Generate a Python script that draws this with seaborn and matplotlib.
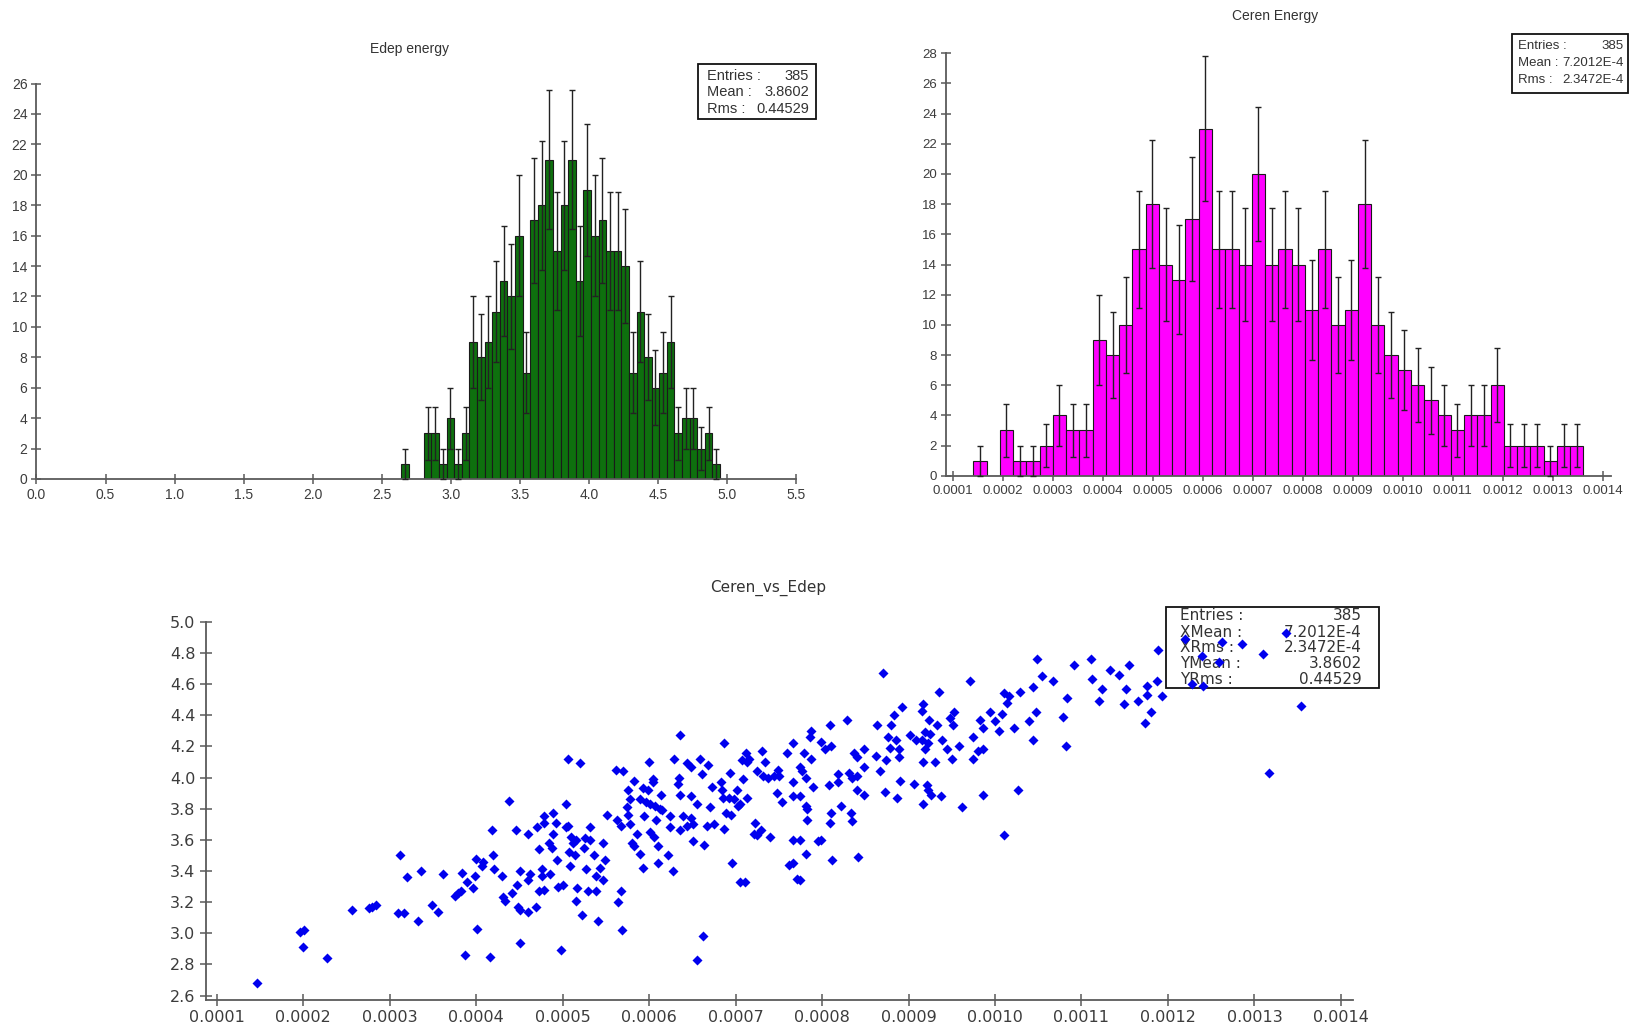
import numpy as np
import pandas as pd
import matplotlib
matplotlib.use("Agg")
import matplotlib.pyplot as plt
import seaborn as sns
from matplotlib.patches import Rectangle

# ---------------- data ----------------
# Edep energy histogram: 100 bins of width 0.055 on [0, 5.5]; counts from bin 48 on
edep_bin_width = 0.055
edep_first_bin = 48
edep_counts = [1, 0, 0, 3, 3, 1, 4, 1, 3, 9, 8, 9, 11, 13, 12, 16, 7, 17, 18, 21,
               15, 18, 21, 13, 19, 16, 17, 15, 15, 14, 7, 11, 8, 6, 7, 9, 3, 4, 4,
               2, 3, 1]
edep_stats = [("Entries :", "385"), ("Mean :", "3.8602"), ("Rms :", "0.44529")]

# Ceren energy histogram: 46 bins starting at 1.4e-4
ceren_bin_start = 0.00014
ceren_bin_width = 2.656e-5
ceren_counts = [1, 0, 3, 1, 1, 2, 4, 3, 3, 9, 8, 10, 15, 18, 14, 13, 17, 23, 15, 15,
                14, 20, 14, 15, 14, 11, 15, 10, 11, 18, 10, 8, 7, 6, 5, 4, 3, 4, 4,
                6, 2, 2, 2, 1, 2, 2]
ceren_stats = [("Entries :", "385"), ("Mean :", "7.2012E-4"), ("Rms :", "2.3472E-4")]

# Ceren vs Edep scatter: x in units of 1e-4, y = Edep
scatter_x_e4 = [
    1.47, 1.96, 2.01, 2.00, 2.27, 2.57, 2.76, 2.80, 2.84, 3.12, 3.10, 3.17, 3.20, 3.33, 3.36, 3.49,
    3.56, 3.62, 3.76, 3.79, 3.83, 3.84, 3.89, 3.87, 3.96, 3.99, 4.00, 4.01, 4.08, 4.07, 4.16, 4.18,
    4.20, 4.21, 4.30, 4.31, 4.33, 4.38, 4.41, 4.46, 4.47, 4.48, 4.51, 4.51, 4.51, 4.60, 4.60, 4.60,
    4.62, 4.70, 4.69, 4.73, 4.73, 4.76, 4.76, 4.78, 4.78, 4.79, 4.84, 4.85, 4.89, 4.88, 4.89, 4.92,
    4.94, 4.95, 4.98, 5.00, 5.04, 5.04, 5.06, 5.07, 5.09, 5.10, 5.12, 5.14, 5.16, 5.15, 5.17, 5.22,
    5.25, 5.26, 5.27, 5.29, 5.32, 5.32, 5.36, 5.39, 5.39, 5.41, 5.43, 5.47, 5.47, 5.49, 5.51,
    5.06, 5.20,
    6.36, 6.87, 6.00, 6.29, 5.62, 5.70, 5.82, 6.05, 6.04, 6.35, 6.34, 6.44, 6.49, 6.59, 6.68, 6.61,
    5.76, 5.93, 5.99, 6.14, 5.78, 5.90, 5.96, 6.01, 6.07, 6.13, 6.15, 6.36, 6.48, 6.56, 5.74, 5.63,
    5.76, 5.94, 6.08, 6.24, 6.39, 6.49, 5.78, 5.67, 6.24, 6.44, 6.51, 6.71, 6.73, 6.83, 6.75, 6.67,
    5.86, 6.01, 6.06, 6.36, 6.87, 6.84, 6.85, 6.92, 6.98, 7.02, 7.09, 7.13, 7.05, 6.89, 6.95, 7.03,
    6.94, 5.80, 5.82, 6.10, 5.90, 6.22, 6.10, 5.93, 6.28, 6.51, 6.63, 5.67, 5.64, 5.69, 6.62, 6.96,
    7.05, 7.11, 7.12, 7.15, 7.13, 7.08, 7.31, 7.34, 7.25, 7.32, 7.38, 7.44, 7.49, 7.50, 7.23, 7.21,
    7.25, 7.30, 7.40, 7.48, 7.54, 7.67, 7.59, 7.66, 7.79, 7.75, 7.77, 7.87, 7.82, 7.67, 7.75, 7.81,
    7.83, 7.89, 7.83, 7.67, 7.74, 7.95, 7.99, 7.82, 7.62, 7.66, 7.71, 7.75, 7.87, 7.86, 7.99, 8.03,
    8.10, 8.09, 8.29, 8.08, 8.18, 8.18, 8.10, 8.22, 8.09, 8.33, 8.35, 8.11, 8.42, 8.31, 8.35, 8.40,
    8.37, 8.40, 8.48, 8.49, 8.41, 8.48, 8.62, 8.67, 8.63, 8.80, 8.73, 8.74, 8.76, 8.85, 8.79, 8.89,
    8.87, 8.90, 8.89, 8.83, 8.92, 9.02, 9.06, 9.09, 9.16, 9.17, 9.16, 9.19, 9.23, 9.19, 9.25, 9.24,
    9.17, 9.21, 9.23, 9.26, 9.17, 9.31, 9.33, 9.39, 9.44, 9.48, 9.52, 9.53, 9.50, 9.58, 9.38, 9.62,
    9.35, 9.75, 9.75, 9.80, 9.86, 9.83, 9.86, 9.94, 10.00, 10.05, 10.08, 10.11, 10.14, 10.16, 10.22,
    9.86, 10.27, 10.11,
    10.49, 10.91, 11.11, 11.33, 11.43, 11.55, 10.54, 10.67, 11.12, 11.24, 11.51, 11.76, 11.87, 11.89,
    10.29, 10.44, 10.83, 11.20, 11.49, 11.65, 11.76, 11.93, 10.48, 10.39, 10.79, 11.80, 11.74, 10.44,
    10.82, 13.17, 13.54, 12.20, 12.63, 12.86, 13.36, 12.39, 12.59, 13.10, 12.28, 12.41,
    6.56, 8.70, 9.71]
scatter_y = [
    2.68, 3.01, 3.02, 2.91, 2.84, 3.15, 3.16, 3.17, 3.18, 3.50, 3.13, 3.13, 3.36, 3.08, 3.40, 3.18,
    3.14, 3.38, 3.24, 3.26, 3.27, 3.39, 3.33, 2.86, 3.29, 3.37, 3.48, 3.03, 3.46, 3.43, 2.85, 3.66,
    3.50, 3.41, 3.37, 3.23, 3.21, 3.85, 3.26, 3.66, 3.31, 3.17, 3.15, 3.40, 2.94, 3.64, 3.14, 3.34,
    3.38, 3.68, 3.17, 3.54, 3.27, 3.41, 3.37, 3.75, 3.71, 3.28, 3.58, 3.38, 3.77, 3.55, 3.64, 3.71,
    3.47, 3.30, 2.89, 3.31, 3.83, 3.68, 3.69, 3.52, 3.43, 3.62, 3.58, 3.50, 3.60, 3.21, 3.29, 3.12,
    3.55, 3.61, 3.41, 3.27, 3.68, 3.60, 3.50, 3.27, 3.37, 3.08, 3.42, 3.58, 3.34, 3.47, 3.76,
    4.12, 4.09,
    4.27, 4.22, 4.10, 4.12, 4.05, 4.04, 3.98, 3.99, 3.97, 4.00, 3.96, 4.09, 4.07, 4.12, 4.08, 4.02,
    3.92, 3.93, 3.92, 3.89, 3.86, 3.86, 3.84, 3.83, 3.82, 3.80, 3.79, 3.89, 3.88, 3.83, 3.81, 3.73,
    3.76, 3.75, 3.73, 3.75, 3.75, 3.74, 3.70, 3.69, 3.68, 3.69, 3.70, 3.81, 3.94, 3.97, 3.70, 3.69,
    3.64, 3.65, 3.62, 3.66, 3.67, 3.92, 3.87, 3.87, 3.86, 3.92, 3.99, 3.87, 3.83, 3.77, 3.76, 3.82,
    4.03, 3.58, 3.56, 3.56, 3.51, 3.50, 3.45, 3.42, 3.40, 3.59, 3.57, 3.27, 3.20, 3.02, 2.98, 3.45,
    3.33, 3.33, 4.16, 4.12, 4.10, 4.11, 4.17, 4.10, 4.04, 4.01, 4.00, 4.01, 4.05, 4.01, 3.71, 3.64,
    3.63, 3.66, 3.62, 3.90, 3.84, 3.97, 4.16, 4.22, 4.16, 4.07, 4.04, 4.12, 4.00, 3.88, 3.88, 3.82,
    3.80, 3.94, 3.73, 3.60, 3.60, 3.59, 3.60, 3.51, 3.44, 3.45, 3.35, 3.34, 4.30, 4.26, 4.23, 4.18,
    4.20, 4.34, 4.37, 3.95, 4.02, 3.97, 3.77, 3.82, 3.71, 3.77, 3.72, 3.47, 3.49, 4.03, 4.00, 4.01,
    4.16, 4.13, 4.18, 4.07, 3.92, 3.89, 4.14, 4.04, 4.34, 4.34, 3.91, 4.11, 4.26, 4.24, 4.19, 4.18,
    3.87, 3.98, 4.13, 4.40, 4.45, 4.27, 3.96, 4.24, 4.24, 4.47, 4.43, 4.18, 4.22, 4.29, 4.28, 4.37,
    4.10, 3.95, 3.92, 3.89, 3.83, 4.10, 4.34, 4.24, 4.18, 4.38, 4.34, 4.42, 4.12, 4.20, 3.88, 3.81,
    4.55, 4.12, 4.26, 4.17, 4.18, 4.37, 4.32, 4.42, 4.36, 4.30, 4.41, 4.54, 4.48, 4.52, 4.32,
    3.89, 3.92, 3.63,
    4.76, 4.72, 4.76, 4.69, 4.66, 4.72, 4.65, 4.62, 4.63, 4.57, 4.57, 4.59, 4.62, 4.82,
    4.55, 4.58, 4.51, 4.49, 4.47, 4.49, 4.53, 4.52, 4.42, 4.36, 4.39, 4.42, 4.35, 4.24,
    4.20, 4.03, 4.46, 4.89, 4.87, 4.86, 4.93, 4.78, 4.74, 4.79, 4.60, 4.59,
    2.83, 4.67, 4.62]
scatter_stats = [("Entries :", "385"), ("XMean :", "7.2012E-4"), ("XRms :", "2.3472E-4"),
                 ("YMean :", "3.8602"), ("YRms :", "0.44529")]

# ---------------- figure ----------------
W, H = 1633, 1025
sns.set_style("ticks")
NARROW = ["Liberation Sans", "DejaVu Sans"]
WIDE = ["DejaVu Sans"]
plt.rcParams["font.family"] = WIDE

fig = plt.figure(figsize=(W / 100, H / 100), dpi=100)
fig.patch.set_facecolor("white")


def fxp(px):
    return px / W


def fyp(py):
    return 1 - py / H


def make_ax(l, t, r, b):
    return fig.add_axes([fxp(l), fyp(b), fxp(r) - fxp(l), fyp(t) - fyp(b)])


AXC = "#5a5a5a"
LABC = "#3c3c3c"


def style_axis(ax, fam, fs, tlen):
    sns.despine(ax=ax)
    for s in ("left", "bottom"):
        ax.spines[s].set_color(AXC)
        ax.spines[s].set_linewidth(1.3)
    ax.tick_params(direction="inout", length=tlen, width=1.1, color=AXC,
                   labelcolor=LABC, labelsize=fs, pad=3)
    for lab in ax.get_xticklabels() + ax.get_yticklabels():
        lab.set_family(fam)
    ax.set_xlabel("")
    ax.set_ylabel("")
    ax.set_facecolor("white")


def stat_box(ax, box, rows, xl, xr, ys, fam, fs):
    (x0, y0, x1, y1) = box
    ax.add_patch(Rectangle((fxp(x0), fyp(y1)), fxp(x1) - fxp(x0), fyp(y0) - fyp(y1),
                           transform=fig.transFigure, fill=False, edgecolor="#111111",
                           linewidth=1.3, clip_on=False, zorder=0.5))
    for (lab, val), yy in zip(rows, ys):
        ax.text(fxp(xl), fyp(yy), lab, transform=fig.transFigure, ha="left", va="center",
                fontsize=fs, family=fam, color="#333333", zorder=0.6)
        ax.text(fxp(xr), fyp(yy), val, transform=fig.transFigure, ha="right", va="center",
                fontsize=fs, family=fam, color="#333333", zorder=0.6)


def hist_with_errors(ax, edges, counts, color):
    counts = np.asarray(counts, dtype=float)
    centers = 0.5 * (edges[:-1] + edges[1:])
    hdf = pd.DataFrame({"center": centers, "count": counts})
    sns.histplot(data=hdf, x="center", weights="count", bins=list(edges), color=color,
                 alpha=1.0, edgecolor="#1a1a1a", linewidth=0.8, ax=ax)
    m = counts > 0
    ax.errorbar(centers[m], counts[m], yerr=np.sqrt(counts[m]), fmt="none",
                ecolor="#222222", elinewidth=1.0, capsize=2.0, capthick=1.0,
                clip_on=False, zorder=3)


# ---- top-left: Edep energy ----
ax1 = make_ax(36.5, 83.5, 796, 479)
edep_edges = (edep_first_bin + np.arange(len(edep_counts) + 1)) * edep_bin_width
hist_with_errors(ax1, edep_edges, edep_counts, "#0e700e")
ax1.set_xlim(0, 5.5)
ax1.set_ylim(0, 26)
ax1.set_xticks(np.arange(0, 5.51, 0.5))
ax1.set_xticklabels([f"{v:.1f}" for v in np.arange(0, 5.51, 0.5)])
ax1.set_yticks(np.arange(0, 27, 2))
style_axis(ax1, NARROW, 10, 7)
fig.text(fxp(410), fyp(49), "Edep energy", ha="center", va="center", fontsize=10,
         family=NARROW, color="#333333")
stat_box(ax1, (698, 64, 816, 119), edep_stats, 707, 809, [76, 92.5, 109], NARROW, 10.5)

# ---- top-right: Ceren Energy ----
ax2 = make_ax(946, 53.3, 1611, 475.7)
ceren_edges = ceren_bin_start + np.arange(len(ceren_counts) + 1) * ceren_bin_width
hist_with_errors(ax2, ceren_edges, ceren_counts, "#ff00ff")
ax2.set_xlim(0.0000854, 0.001417)
ax2.set_ylim(0, 28)
cx = np.arange(1, 15) * 1e-4
ax2.set_xticks(cx)
ax2.set_xticklabels([f"{v:.4f}" for v in cx])
ax2.set_yticks(np.arange(0, 29, 2))
style_axis(ax2, NARROW, 9.5, 7)
fig.text(fxp(1275), fyp(16), "Ceren Energy", ha="center", va="center", fontsize=10,
         family=NARROW, color="#333333")
stat_box(ax2, (1512, 34, 1628, 93), ceren_stats, 1518, 1624, [46, 63, 80], NARROW, 9.5)

# ---- bottom: Ceren_vs_Edep scatter ----
ax3 = make_ax(205.7, 621.7, 1353, 1000)
sdf = pd.DataFrame({"ceren": np.asarray(scatter_x_e4) * 1e-4, "edep": scatter_y})
sns.scatterplot(data=sdf, x="ceren", y="edep", marker="D", s=26, color="#0000ee",
                linewidth=0, ax=ax3, zorder=2, clip_on=False)
ax3.set_xlim(0.0000873, 0.001414)
ax3.set_ylim(2.572, 5.0)
ax3.set_xticks(cx)
ax3.set_xticklabels([f"{v:.4f}" for v in cx])
yt = np.arange(2.6, 5.01, 0.2)
ax3.set_yticks(yt)
ax3.set_yticklabels([f"{v:.1f}" for v in yt])
style_axis(ax3, WIDE, 11.5, 9)
fig.text(fxp(768), fyp(588), "Ceren_vs_Edep", ha="center", va="center", fontsize=11,
         family=WIDE, color="#333333")
stat_box(ax3, (1166, 607, 1379, 688), scatter_stats, 1180, 1362,
         [615.7, 632.3, 647.7, 663.3, 680], WIDE, 11)

fig.savefig("out.png", dpi=100, facecolor="white")
